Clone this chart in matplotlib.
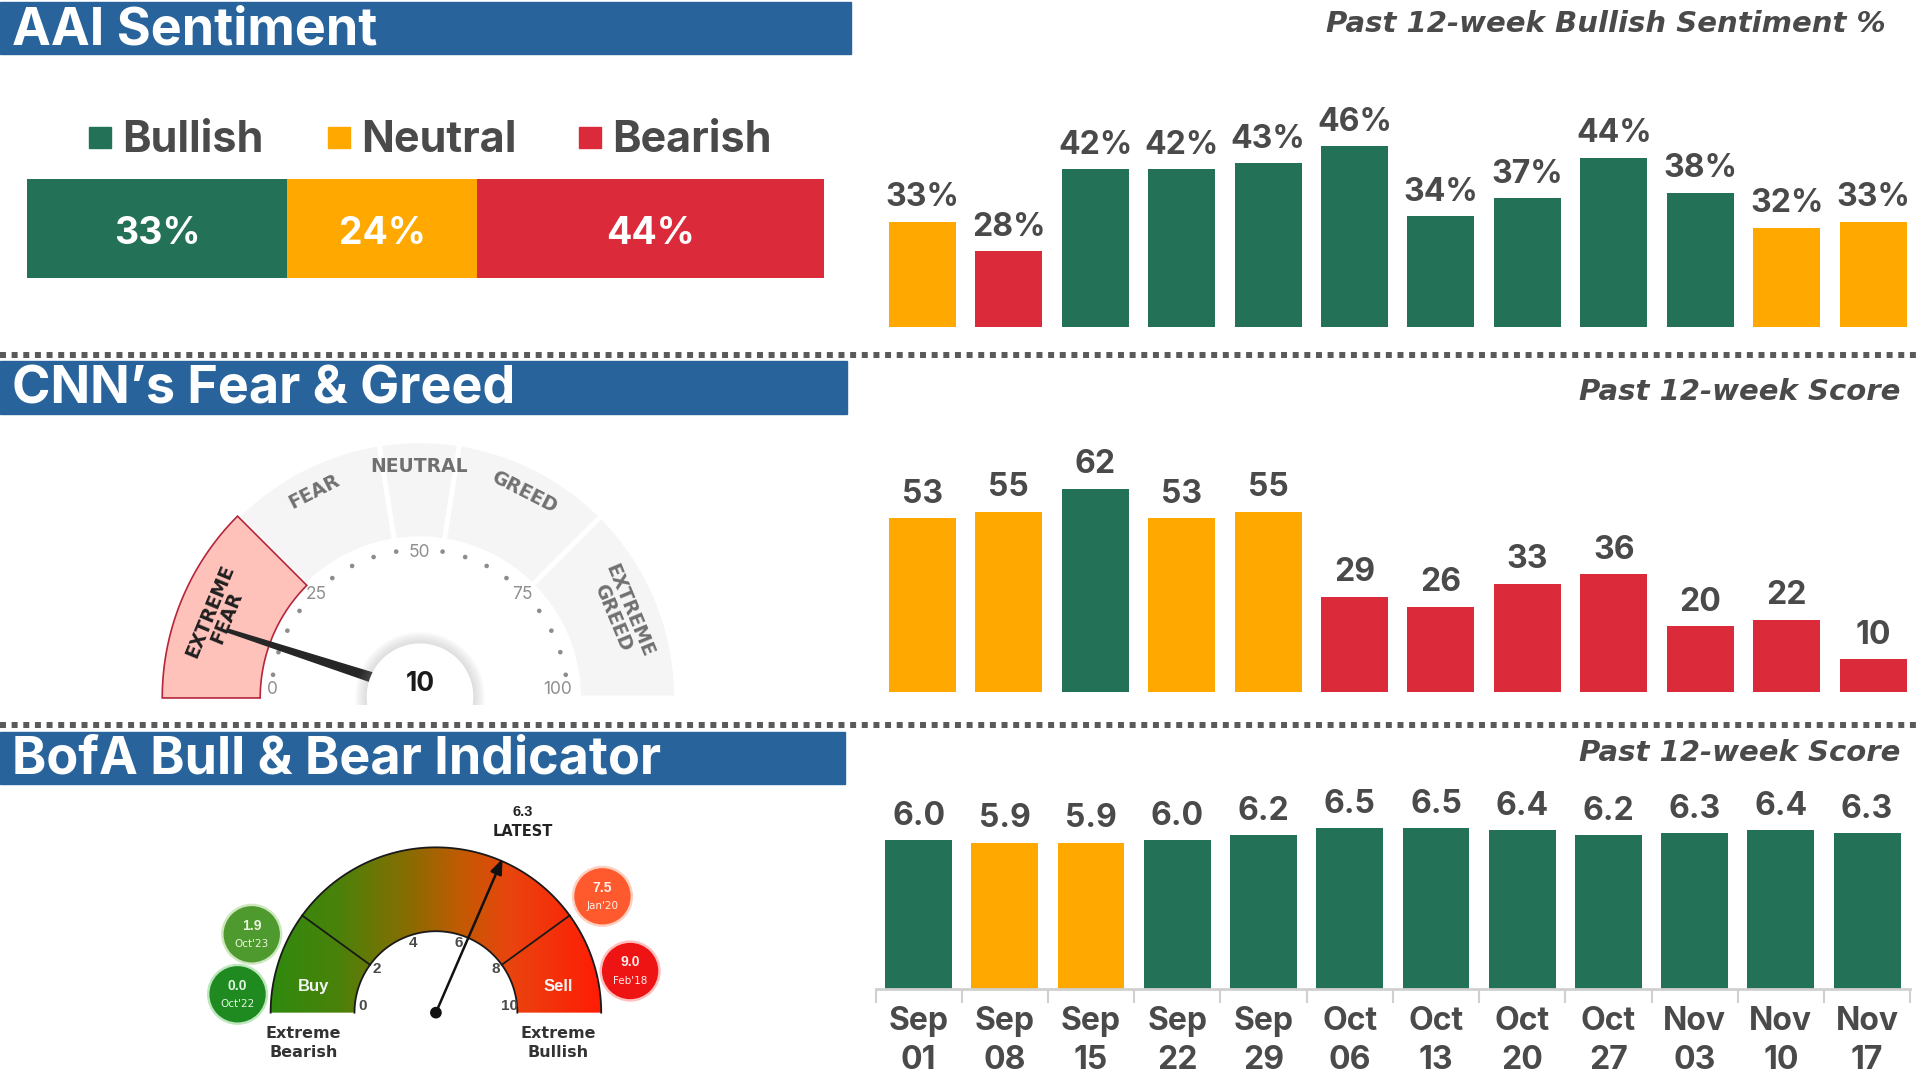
import numpy as np
import matplotlib
matplotlib.use("Agg")
import matplotlib.pyplot as plt
from matplotlib.patches import Rectangle, Polygon, Circle
from matplotlib.colors import LinearSegmentedColormap

# ---------------- data ----------------
weeks = ["Sep\n01", "Sep\n08", "Sep\n15", "Sep\n22", "Sep\n29", "Oct\n06",
         "Oct\n13", "Oct\n20", "Oct\n27", "Nov\n03", "Nov\n10", "Nov\n17"]
aai_labels = ["Bullish", "Neutral", "Bearish"]
aai_current = [33, 24, 44]
aai_bullish = [33, 28, 42, 42, 43, 46, 34, 37, 44, 38, 32, 33]
aai_mood = ["Neutral", "Bearish", "Bullish", "Bullish", "Bullish", "Bullish",
            "Bullish", "Bullish", "Bullish", "Bullish", "Neutral", "Neutral"]
cnn_scores = [53, 55, 62, 53, 55, 29, 26, 33, 36, 20, 22, 10]
cnn_mood = ["Neutral", "Neutral", "Bullish", "Neutral", "Neutral", "Bearish",
            "Bearish", "Bearish", "Bearish", "Bearish", "Bearish", "Bearish"]
cnn_current = 10
cnn_zone_names = ["EXTREME\nFEAR", "FEAR", "NEUTRAL", "GREED", "EXTREME\nGREED"]
cnn_zone_edges = [0, 25, 45, 55, 75, 100]
cnn_tick_values = [0, 25, 50, 75, 100]
bofa_scores = [6.0, 5.9, 5.9, 6.0, 6.2, 6.5, 6.5, 6.4, 6.2, 6.3, 6.4, 6.3]
bofa_mood = ["Bullish", "Neutral", "Neutral", "Bullish", "Bullish", "Bullish",
             "Bullish", "Bullish", "Bullish", "Bullish", "Bullish", "Bullish"]
bofa_latest = 6.3
bofa_tick_values = [0, 2, 4, 6, 8, 10]
bofa_hist_values = ["1.9", "0.0", "7.5", "9.0"]
bofa_hist_dates = ["Oct'23", "Oct'22", "Jan'20", "Feb'18"]

# ---------------- style ----------------
GREEN = "#237156"
ORANGE = "#FFA800"
RED = "#DB2B3A"
BLUE = "#28649B"
TXT = "#4a4a4a"
MOOD = {"Bullish": GREEN, "Neutral": ORANGE, "Bearish": RED}
FONT = "Inter"

W, H = 1568.0, 882.0
fig = plt.figure(figsize=(19.2, 10.8), dpi=100)
fig.patch.set_facecolor("white")
ov = fig.add_axes([0, 0, 1, 1])
ov.set_facecolor("none")
ov.axis("off")


def axes_px(x0, y0, x1, y1):
    return fig.add_axes([x0 / W, 1 - y1 / H, (x1 - x0) / W, (y1 - y0) / H])


def arc_pts(cx, cy, r, a0, a1, n=120):
    a = np.radians(np.linspace(a0, a1, n))
    return np.column_stack([cx + r * np.cos(a), cy - r * np.sin(a)])


def annulus(cx, cy, r0, r1, a0, a1):
    return np.vstack([arc_pts(cx, cy, r1, a0, a1), arc_pts(cx, cy, r0, a1, a0)])


def polar(cx, cy, r, a):
    return cx + r * np.cos(np.radians(a)), cy - r * np.sin(np.radians(a))


# ---------------- headers / separators ----------------
headers = [("AAI Sentiment", 2, 44, 695), ("CNN’s Fear & Greed", 295, 338, 692),
           ("BofA Bull & Bear Indicator", 598, 640, 690)]
for title, y0, y1, x1 in headers:
    ov.add_patch(Rectangle((0, y0), x1, y1 - y0, color=BLUE, zorder=1))
    ov.text(10, (y0 + y1) / 2 + 2, title, color="white", fontsize=37.5, fontweight="bold",
            family=FONT, ha="left", va="center", zorder=2)

subtitles = [("Past 12-week Bullish Sentiment %", 1540, 20),
             ("Past 12-week Score", 1552, 320), ("Past 12-week Score", 1552, 615)]
for s, x, y in subtitles:
    ov.text(x, y, s, color=TXT, fontsize=21, fontweight="bold", fontstyle="italic",
            family="DejaVu Sans", ha="right", va="center")

for ysep in (290, 592):
    ov.plot([0, W], [ysep, ysep], color="#5a5a5a", lw=4.3, linestyle=(0, (1, 0.95)),
            dash_capstyle="butt", solid_capstyle="butt")

# ---------------- AAI current stacked bar ----------------
leg_pos = [(73, 100), (268, 295), (473, 500)]
for (sx, tx), lab in zip(leg_pos, aai_labels):
    ov.add_patch(Rectangle((sx, 104), 18, 17, color=MOOD[lab]))
    ov.text(tx, 115, lab, color=TXT, fontsize=31, fontweight="bold", family=FONT,
            ha="left", va="center")

axs = axes_px(22, 146, 673, 227)
left = np.concatenate([[0], np.cumsum(aai_current)[:-1]])
axs.barh(0, aai_current, left=left, height=1.0, color=[MOOD[l] for l in aai_labels])
for l0, v in zip(left, aai_current):
    axs.text(l0 + v / 2, -0.06, f"{v}%", color="white", fontsize=27, fontweight="bold",
             family=FONT, ha="center", va="center")
axs.set_xlim(0, sum(aai_current))
axs.set_ylim(-0.5, 0.5)
axs.axis("off")


# ---------------- weekly bar charts ----------------
def week_bars(rect, values, moods, ylim, labels, fs):
    ax = axes_px(*rect)
    ax.set_facecolor("none")
    x = np.arange(len(values))
    bars = ax.bar(x, values, width=0.775, color=[MOOD[m] for m in moods])
    ax.bar_label(bars, labels=labels, padding=6, fontsize=fs, fontweight="bold",
                 color=TXT, family=FONT)
    ax.set_xlim(-0.5, len(values) - 0.5)
    ax.set_ylim(*ylim)
    return ax


a1 = week_bars((718, 80, 1565, 267), aai_bullish, aai_mood, (15, 54.2),
               [f"{v}%" for v in aai_bullish], 23)
a1.axis("off")
a2 = week_bars((718, 345, 1565, 565), cnn_scores, cnn_mood, (0, 82.2),
               [f"{v}" for v in cnn_scores], 23)
a2.axis("off")
a3 = week_bars((715, 640, 1560, 808), bofa_scores, bofa_mood, (0, 8.28),
               [f"{v:.1f}" for v in bofa_scores], 23)
for s in ("top", "left", "right"):
    a3.spines[s].set_visible(False)
a3.spines["bottom"].set_color("#d0d0d0")
a3.spines["bottom"].set_linewidth(2)
a3.set_yticks([])
a3.set_xticks(np.arange(len(weeks)))
a3.set_xticklabels(weeks, fontsize=23, fontweight="bold", color=TXT, family=FONT,
                   linespacing=1.32)
a3.set_xticks(np.arange(-0.5, len(weeks), 1.0), minor=True)
a3.tick_params(axis="x", which="major", length=0, pad=12)
a3.tick_params(axis="x", which="minor", length=10, width=1.5, color="#d0d0d0")

# ---------------- CNN Fear & Greed gauge ----------------
cx, cy = 342.5, 570.0
r_in, r_out = 130, 210


def v2a(v):
    return 180 - 1.8 * v


for i, name in enumerate(cnn_zone_names):
    a0, a1_ = v2a(cnn_zone_edges[i]), v2a(cnn_zone_edges[i + 1])
    active = cnn_zone_edges[i] <= cnn_current < cnn_zone_edges[i + 1]
    if active:
        ov.add_patch(Polygon(annulus(cx, cy, r_in, r_out, a0, a1_), closed=True,
                             facecolor="#FFC2BB", edgecolor="#B5253C", lw=1.2, zorder=3))
    else:
        ov.add_patch(Polygon(annulus(cx, cy, r_in, r_out, a0, a1_), closed=True,
                             facecolor="#F5F5F5", edgecolor="white", lw=3.5, zorder=2))
    mid = (a0 + a1_) / 2
    rr = 178 if "\n" in name else 189
    tx, ty = polar(cx, cy, rr, mid)
    ov.text(tx, ty, name, rotation=mid - 90, rotation_mode="anchor", ha="center",
            va="center", fontsize=13.5, fontweight="bold", family="Liberation Sans Narrow",
            color="#1f1f1f" if active else "#707070", linespacing=0.95, zorder=4)

for v in range(5, 100, 5):
    if v in cnn_tick_values:
        continue
    px, py = polar(cx, cy, 121, v2a(v))
    ov.add_patch(Circle((px, py), 1.3, color="#8c8c8c", zorder=3))
for v in cnn_tick_values:
    if v in (0, 100):
        px, py = polar(cx, cy, 120 if v == 0 else 113, v2a(v))
        py -= 7
    else:
        px, py = polar(cx, cy, 119, v2a(v))
    ov.text(px, py, str(v), fontsize=12.5, color="#8f8f8f", family=FONT,
            ha="center", va="center", zorder=3)

# needle
na = np.radians(v2a(cnn_current))
pvx, pvy = 343.0, 566.0
d = np.array([np.cos(na), -np.sin(na)])
nrm = np.array([np.sin(na), np.cos(na)])
base = np.array([pvx, pvy])
tip = base + 165 * d
needle = np.array([base + 4.5 * nrm, tip + 1.2 * nrm, tip - 1.2 * nrm, base - 4.5 * nrm])
ov.add_patch(Polygon(needle, closed=True, color="#262626", zorder=5))

# hub with soft shadow
clip = Rectangle((0, 0), W, 576, transform=ov.transData, visible=False)
ov.add_patch(clip)
for k in range(10, 0, -1):
    c = Circle((343, 569), 43 + k, color="#9a9a9a", alpha=0.035, lw=0, zorder=6)
    ov.add_patch(c)
    c.set_clip_path(clip)
hub = Circle((343, 569), 43, color="white", zorder=7)
ov.add_patch(hub)
hub.set_clip_path(clip)
ov.text(343, 559, str(cnn_current), fontsize=19, fontweight="bold", family=FONT,
        color="#1a1a1a", ha="center", va="center", zorder=8)

# ---------------- BofA Bull & Bear gauge ----------------
bx, by = 356.0, 827.0
R_in, R_out = 66.5, 135.0
cmap = LinearSegmentedColormap.from_list(
    "bofa", [(0.0, "#2f8a0e"), (0.2, "#4a820a"), (0.42, "#8a6c02"),
             (0.58, "#c45a02"), (0.72, "#e9450f"), (1.0, "#ff1c05")])
grad = cmap(np.linspace(0, 1, 400))[None, :, :]
im = ov.imshow(grad, extent=(bx - R_out, bx + R_out, by, by - R_out), aspect="auto",
               zorder=2, interpolation="bilinear")
gpoly = Polygon(annulus(bx, by, R_in, R_out, 180, 0), closed=True, transform=ov.transData,
                facecolor="none", edgecolor="none")
ov.add_patch(gpoly)
im.set_clip_path(gpoly)
for r in (R_in, R_out):
    p = arc_pts(bx, by, r, 180, 0)
    ov.plot(p[:, 0], p[:, 1], color="#1a1a1a", lw=1.3, zorder=3)
for v in (2, 8):
    a = 180 - 18 * v
    p0 = polar(bx, by, R_in, a)
    p1 = polar(bx, by, R_out, a)
    ov.plot([p0[0], p1[0]], [p0[1], p1[1]], color="#1a1a1a", lw=1.3, zorder=3)
for v in bofa_tick_values:
    a = min(max(180 - 18 * v, 5), 175)
    px, py = polar(bx, by, 60, a)
    ov.text(px, py, str(v), fontsize=11, fontweight="bold", color="#4a4a4a",
            family="Liberation Sans", ha="center", va="center", zorder=4)
for lab, a in (("Buy", 168), ("Sell", 12)):
    px, py = polar(bx, by, 102, a)
    ov.text(px, py, lab, fontsize=12, fontweight="bold", color="#f4f4f4",
            family="Liberation Sans", ha="center", va="center", zorder=4)

la = 180 - 18 * bofa_latest
tipx, tipy = polar(bx, by, 137, la)
ov.annotate("", xy=(tipx, tipy), xytext=(bx, by),
            arrowprops=dict(arrowstyle="-|>,head_length=0.9,head_width=0.35",
                            color="#111111", lw=1.8, shrinkA=0, shrinkB=0), zorder=5)
ov.add_patch(Circle((bx, by), 4.2, color="#111111", zorder=6))
ov.text(427, 663, f"{bofa_latest:.1f}", fontsize=10.5, fontweight="bold", color="#222222",
        family="Liberation Sans", ha="center", va="center")
ov.text(427, 679, "LATEST", fontsize=10.5, fontweight="bold", color="#222222",
        family="Liberation Sans Narrow", ha="center", va="center")

ov.text(248, 852, "Extreme\nBearish", fontsize=11.5, fontweight="bold", color="#333333",
        family="Liberation Sans Narrow", ha="center", va="center", linespacing=1.3)
ov.text(456, 852, "Extreme\nBullish", fontsize=11.5, fontweight="bold", color="#333333",
        family="Liberation Sans Narrow", ha="center", va="center", linespacing=1.3)

bubble_pos = [(205.6, 763), (194, 812), (492, 732), (514.6, 793)]
bubble_fill = ["#4e9a2e", "#1f8a1f", "#ff5a2e", "#ee1414"]
bubble_rim = ["#9fd080", "#7fd07f", "#ffa080", "#ff8080"]
bubble_txt = ["#eaf6dc", "#e0f4e0", "#fff0e8", "#ffecec"]
for (px, py), val, date, fc, rc, tc in zip(bubble_pos, bofa_hist_values, bofa_hist_dates,
                                          bubble_fill, bubble_rim, bubble_txt):
    ov.add_patch(Circle((px, py), 25, color=rc, alpha=0.5, lw=0, zorder=3))
    ov.add_patch(Circle((px, py), 23, color=fc, lw=0, zorder=4))
    ov.text(px, py - 7, val, fontsize=10, fontweight="bold", color=tc,
            family="Liberation Sans", ha="center", va="center", zorder=5)
    ov.text(px, py + 8, date, fontsize=7.5, color=tc, family="Liberation Sans Narrow",
            ha="center", va="center", zorder=5)

ov.set_xlim(0, W)
ov.set_ylim(H, 0)
fig.savefig("out.png", dpi=100, facecolor="white")
